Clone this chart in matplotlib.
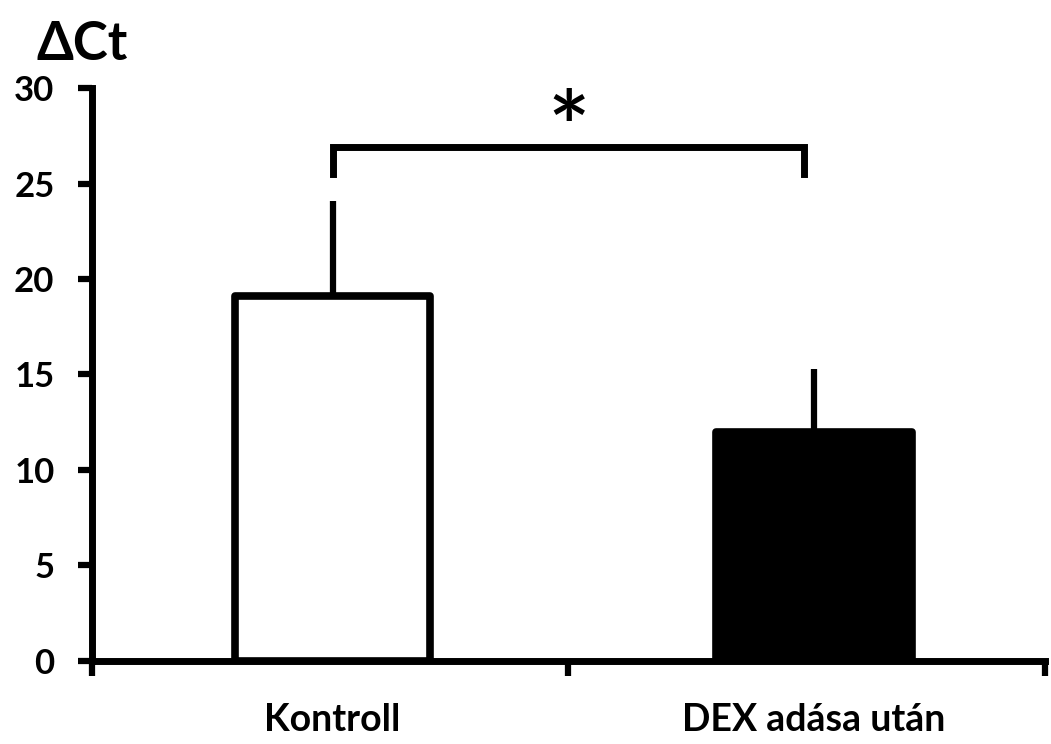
import matplotlib
matplotlib.use("Agg")
import matplotlib.pyplot as plt

# values
groups = ["Kontroll", "DEX adása után"]
means = [19.1, 12.0]
sd_upper = [5.0, 3.3]
bar_colors = ["white", "black"]
yticks = [0, 5, 10, 15, 20, 25, 30]

plt.rcParams["font.family"] = ["Lato", "DejaVu Sans"]
plt.rcParams["font.weight"] = "bold"

fig = plt.figure(figsize=(10.51, 7.44), dpi=100)
ax = fig.add_axes([0.0875, 0.1116, 0.9068, 0.7701])

pos = [0.505, 1.515]
ax.bar(pos, means, width=0.41, color=bar_colors, edgecolor="black",
       linewidth=5.5, joinstyle="round", zorder=3)
ax.errorbar(pos, means, yerr=[[0, 0], sd_upper], fmt="none", ecolor="black",
            elinewidth=4.5, capsize=0, zorder=2)

# significance bracket
bx = [0.505, 0.505, 1.495, 1.495]
by = [25.5, 26.9, 26.9, 25.5]
ax.plot(bx, by, color="black", lw=5, solid_joinstyle="miter", clip_on=False)
ax.text(1.0, 27.5, "*", fontsize=72, fontweight="semibold", ha="center", va="center")

ax.set_xlim(0, 2)
ax.set_ylim(0, 30)
ax.set_yticks(yticks)
ax.set_xticks([0, 1, 2])
ax.set_xticklabels([])
ax.set_xticks(pos, minor=True)
ax.set_xticklabels(groups, minor=True)
ax.tick_params(axis="x", which="major", direction="out", length=11, width=4.5)
ax.tick_params(axis="x", which="minor", length=0, pad=30, labelsize=27)
ax.tick_params(axis="y", direction="out", length=10, width=4.5, pad=17, labelsize=25)

for side in ["top", "right"]:
    ax.spines[side].set_visible(False)
for side in ["left", "bottom"]:
    ax.spines[side].set_linewidth(5)
    ax.spines[side].set_capstyle("projecting")

fig.text(0.035, 0.94, "ΔCt", fontsize=38, fontweight="bold", ha="left", va="center")

fig.savefig("out.png", dpi=100)
